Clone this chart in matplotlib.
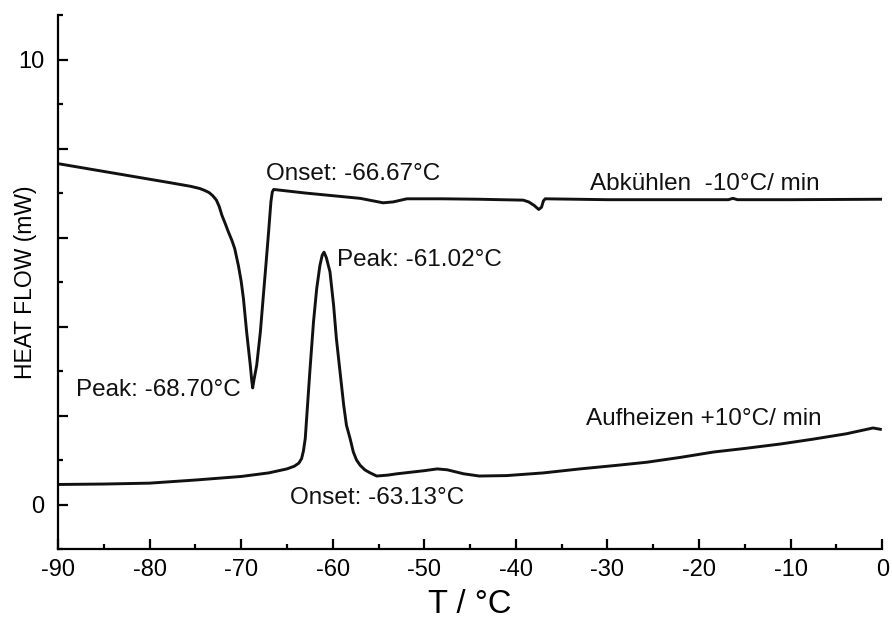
import matplotlib
matplotlib.use('Agg')
import matplotlib.pyplot as plt
from matplotlib.ticker import MultipleLocator, FuncFormatter

plt.rcParams['font.family'] = ['Liberation Sans', 'DejaVu Sans']
plt.rcParams['axes.unicode_minus'] = False

# DSC cooling run (-10 °C/min)
cool_T = [-90.0, -86.0, -82.0, -78.0, -75.5, -74.5, -74.0, -73.5, -73.1, -72.7,
          -72.4, -72.1, -71.75, -71.4, -71.0, -70.7, -70.3, -70.0, -69.75, -69.4,
          -69.0, -68.85, -68.74, -68.6, -68.3, -67.9, -67.6, -67.3, -67.0, -66.75,
          -66.6, -66.45, -63.0, -60.0, -57.0, -55.5, -54.5, -53.4, -51.9, -48.0,
          -44.0, -41.7, -39.2, -38.6, -38.0, -37.5, -37.2, -37.0, -36.8, -30.0,
          -20.0, -16.8, -16.3, -15.8, -10.0, 0.0]
cool_HF = [7.66, 7.52, 7.38, 7.24, 7.15, 7.10, 7.06, 7.01, 6.94, 6.84,
           6.70, 6.50, 6.32, 6.13, 5.93, 5.75, 5.37, 5.02, 4.63, 3.88,
           3.13, 2.80, 2.62, 2.80, 3.13, 3.88, 4.63, 5.37, 6.13, 6.80,
           7.02, 7.08, 7.00, 6.94, 6.88, 6.82, 6.78, 6.80, 6.87, 6.87,
           6.86, 6.85, 6.84, 6.80, 6.72, 6.63, 6.68, 6.82, 6.87, 6.85,
           6.85, 6.85, 6.88, 6.85, 6.85, 6.86]

# DSC heating run (+10 °C/min)
heat_T = [-90.0, -85.0, -80.0, -75.0, -70.0, -67.0, -65.0, -64.2, -63.7, -63.4,
          -63.2, -63.0, -62.75, -62.5, -62.1, -61.75, -61.4, -61.15, -60.95, -60.7,
          -60.3, -59.9, -59.6, -59.2, -58.8, -58.5, -58.1, -57.75, -57.4, -57.0,
          -56.5, -56.0, -55.2, -54.0, -53.0, -50.0, -48.6, -47.5, -45.7, -44.0,
          -41.0, -37.0, -33.0, -29.0, -25.7, -22.0, -18.4, -15.0, -11.1, -7.5,
          -3.9, -1.0, -0.2]
heat_HF = [0.45, 0.46, 0.48, 0.55, 0.63, 0.71, 0.80, 0.86, 0.93, 1.03,
           1.20, 1.48, 2.23, 2.98, 4.10, 4.85, 5.37, 5.60, 5.67, 5.55,
           5.23, 4.47, 3.73, 2.98, 2.23, 1.78, 1.48, 1.18, 1.00, 0.88,
           0.78, 0.72, 0.64, 0.66, 0.69, 0.76, 0.80, 0.78, 0.69, 0.64,
           0.65, 0.71, 0.80, 0.88, 0.95, 1.06, 1.18, 1.26, 1.36, 1.47,
           1.59, 1.72, 1.69]

# annotations: (text, T, heat flow at baseline)
notes = [
    ('Onset: -66.67°C', -67.3, 7.30),
    ('Peak: -68.70°C', -88.0, 2.44),
    ('Peak: -61.02°C', -59.5, 5.37),
    ('Onset: -63.13°C', -64.65, 0.02),
    ('Abkühlen  -10°C/ min', -31.9, 7.06),
    ('Aufheizen +10°C/ min', -32.3, 1.78),
]

fig = plt.figure(figsize=(8.92, 6.26), dpi=100)
ax = fig.add_axes([0.065, 0.123, 0.924, 0.853])

ax.plot(cool_T, cool_HF, color='#111111', lw=2.1, solid_joinstyle='round')
ax.plot(heat_T, heat_HF, color='#111111', lw=2.1, solid_joinstyle='round')

for txt, x, y in notes:
    ax.text(x, y, txt, fontsize=17.5, ha='left', va='baseline', color='#111111')

ax.set_xlim(-90, 0)
ax.set_ylim(-1, 11)

for side in ['top', 'right']:
    ax.spines[side].set_visible(False)
for side in ['left', 'bottom']:
    ax.spines[side].set_linewidth(1.6)

ax.xaxis.set_major_locator(MultipleLocator(10))
ax.xaxis.set_minor_locator(MultipleLocator(5))
ax.yaxis.set_major_locator(MultipleLocator(2))
ax.yaxis.set_minor_locator(MultipleLocator(1))
ax.yaxis.set_major_formatter(FuncFormatter(lambda v, p: f'{v:g}' if v in (0, 10) else ''))

ax.tick_params(which='both', direction='in', width=1.6, labelsize=17)
ax.tick_params(which='major', length=7)
ax.tick_params(which='minor', length=3.5)
ax.tick_params(axis='x', pad=7)
ax.tick_params(axis='y', pad=10)

ax.set_xlabel('T / °C', fontsize=23.5)
ax.xaxis.set_label_coords(0.5, -0.074)
ax.set_ylabel('HEAT FLOW (mW)', fontsize=16.5)
ax.yaxis.set_label_coords(-0.026, 0.5)

fig.savefig('out.png', dpi=100)
